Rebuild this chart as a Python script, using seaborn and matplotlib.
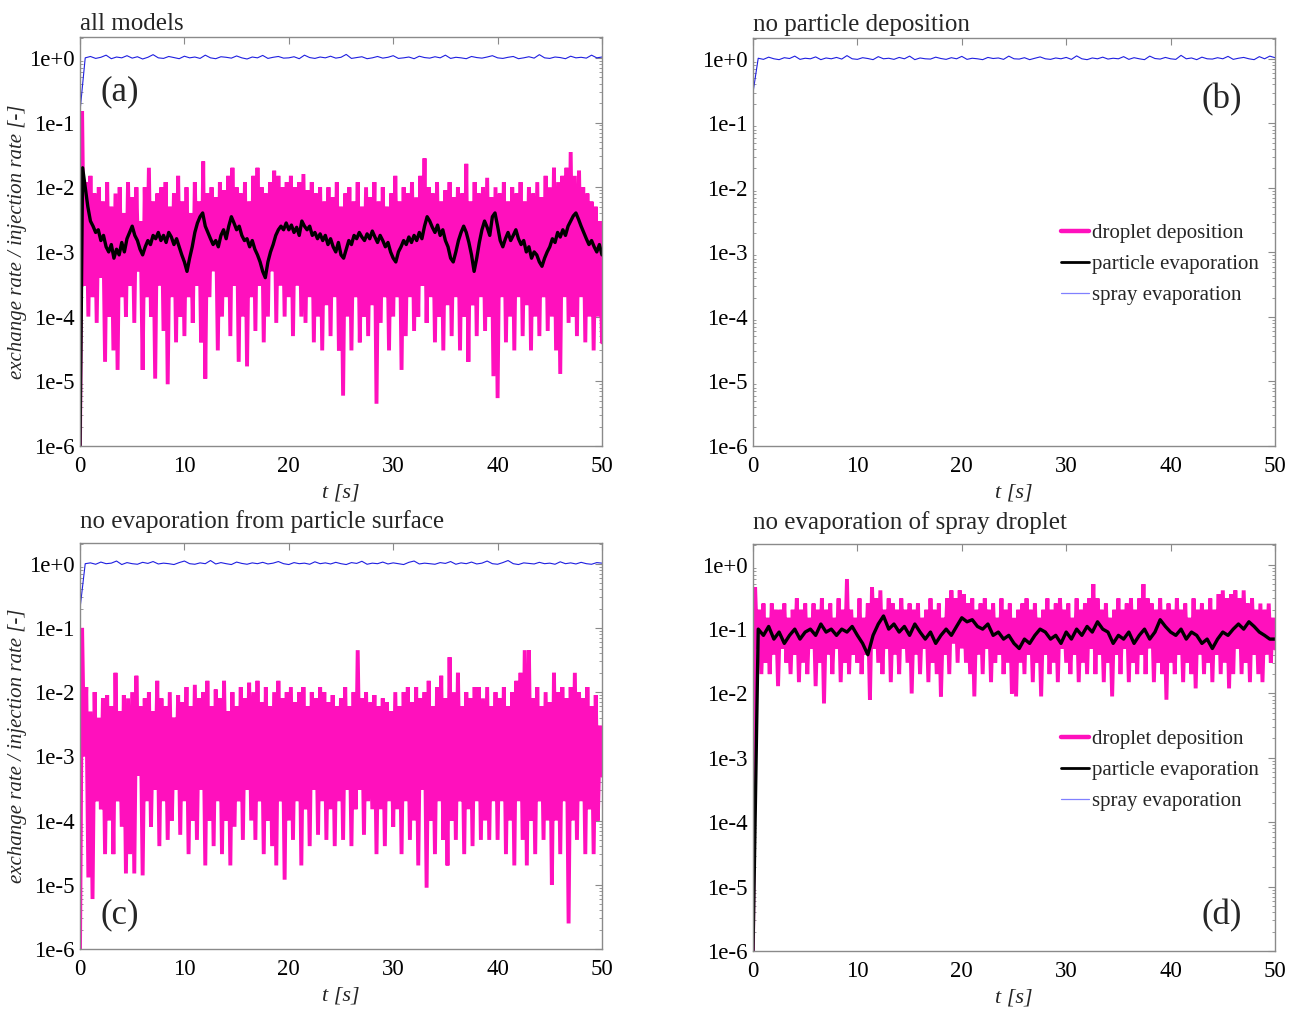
import numpy as np
import pandas as pd
import matplotlib
matplotlib.use("Agg")
import matplotlib.pyplot as plt
from matplotlib.lines import Line2D
from matplotlib.ticker import LogLocator, NullFormatter
import seaborn as sns

# ---------------- data ----------------
titles = ["all models", "no particle deposition",
          "no evaporation from particle surface", "no evaporation of spray droplet"]
panel_tags = ["(a)", "(b)", "(c)", "(d)"]
legend_labels = ["droplet deposition", "particle evaporation", "spray evaporation"]
ytick_vals = [1e-6, 1e-5, 1e-4, 1e-3, 1e-2, 1e-1, 1e0]
ytick_labels = ["1e-6", "1e-5", "1e-4", "1e-3", "1e-2", "1e-1", "1e+0"]
xtick_vals = [0, 10, 20, 30, 40, 50]

# droplet deposition, panel (a)
dep_a = [1e-6, 1.5e-1, 3e-4, 1.2e-2, 1e-4, 1.5e-2, 2e-4, 8e-3, 8e-5, 1e-2, 4e-4, 6e-3, 2e-5, 1.2e-2, 1e-4, 5e-3, 3e-5, 8e-3, 1.5e-5, 1e-2, 2e-4, 4e-3, 1e-4, 1.2e-2, 3e-4,
         7e-3, 8e-5, 1e-2, 5e-4, 3e-3, 1.5e-5, 1e-2, 2e-4, 2e-2, 1e-4, 6e-3, 1.1e-5, 8e-3, 3e-4, 1e-2, 6e-5, 1.2e-2, 9e-6, 5e-3, 2e-4, 8e-3, 4e-5, 1.5e-2, 1e-4, 6e-3,
         5e-5, 1e-2, 2e-4, 4e-3, 8e-5, 1.2e-2, 3e-4, 6e-3, 4e-5, 2.5e-2, 1.1e-5, 8e-3, 2e-4, 1e-2, 5e-4, 7e-3, 3e-5, 1.2e-2, 1e-4, 9e-3, 2e-4, 1.5e-2, 5e-5, 2e-2, 3e-4,
         1e-2, 2e-5, 8e-3, 1e-4, 1.2e-2, 1.7e-5, 6e-3, 2e-4, 1.5e-2, 6e-5, 2e-2, 3e-4, 1e-2, 4e-5, 8e-3, 1e-4, 1.2e-2, 5e-4, 1.8e-2, 8e-5, 1.5e-2, 3e-4, 1e-2, 1e-4, 1.2e-2,
         2e-4, 1.5e-2, 5e-5, 1e-2, 3e-4, 1.2e-2, 1e-4, 1.6e-2, 8e-5, 9e-3, 2e-4, 1.2e-2, 4e-5, 8e-3, 1e-4, 1e-2, 3e-5, 6e-3, 1.5e-4, 1e-2, 5e-5, 7e-3, 2e-4, 1.2e-2, 3e-5,
         5e-3, 6e-6, 8e-3, 1e-4, 1e-2, 3e-5, 6e-3, 2e-4, 1.2e-2, 4e-5, 5e-3, 1e-4, 1e-2, 5e-5, 7e-3, 1.5e-4, 1.2e-2, 4.5e-6, 6e-3, 8e-5, 1e-2, 2e-4, 5e-3, 3e-5, 8e-3,
         1e-4, 1.5e-2, 2e-4, 6e-3, 1.5e-5, 1e-2, 5e-5, 8e-3, 2e-4, 1.2e-2, 6e-5, 7e-3, 1e-4, 1.5e-2, 3e-4, 2.8e-2, 8e-5, 1e-2, 2e-4, 8e-3, 4e-5, 1.2e-2, 1e-4, 6e-3, 3e-5,
         9e-3, 1.5e-4, 1.2e-2, 5e-5, 7e-3, 2e-4, 1e-2, 3e-5, 8e-3, 1e-4, 2.3e-2, 2e-5, 6e-3, 1.5e-4, 1.2e-2, 5e-5, 8e-3, 2e-4, 1e-2, 6e-5, 1.4e-2, 1e-4, 7e-3, 1.2e-5, 1e-2,
         5.5e-6, 8e-3, 2e-4, 1.2e-2, 4e-5, 6e-3, 1e-4, 1e-2, 3e-5, 8e-3, 2e-4, 1.2e-2, 5e-5, 6e-3, 1.5e-4, 1e-2, 3e-5, 8e-3, 1e-4, 1.2e-2, 5e-5, 7e-3, 2e-4, 1.5e-2, 6e-5,
         1e-2, 1e-4, 2e-2, 3e-5, 1.2e-2, 1.3e-5, 1.5e-2, 2e-4, 2e-2, 8e-5, 3.5e-2, 1e-4, 1.5e-2, 5e-5, 1.8e-2, 2e-4, 1e-2, 4e-5, 8e-3, 1e-4, 6e-3, 3e-5, 5e-3, 1e-4, 3e-3, 4e-5]

# particle evaporation, panel (a)
evp_a = [1e-6, 2e-2, 1e-2, 5e-3, 3e-3, 2.5e-3, 2e-3, 2.2e-3, 1.5e-3, 1.8e-3, 1.2e-3, 1e-3, 1.3e-3, 8e-4, 1.1e-3, 9e-4, 1.4e-3, 1e-3, 1.6e-3, 2e-3,
         2.5e-3, 1.8e-3, 1.5e-3, 1.1e-3, 9e-4, 1.2e-3, 1.5e-3, 1.3e-3, 1.8e-3, 1.6e-3, 2e-3, 1.5e-3, 1.8e-3, 1.4e-3, 2e-3, 1.7e-3, 1.3e-3, 1.6e-3, 1.2e-3, 9e-4,
         7e-4, 5e-4, 8e-4, 1.2e-3, 2e-3, 2.8e-3, 3.5e-3, 4e-3, 2.5e-3, 2e-3, 1.6e-3, 1.3e-3, 1.5e-3, 1.2e-3, 1.8e-3, 2.2e-3, 1.6e-3, 2.5e-3, 3.5e-3, 2.8e-3,
         2.2e-3, 2.5e-3, 1.8e-3, 1.5e-3, 1.6e-3, 1.2e-3, 1.5e-3, 1.1e-3, 9e-4, 7e-4, 5e-4, 4e-4, 7e-4, 1e-3, 1.3e-3, 1.8e-3, 2.2e-3, 2.5e-3, 2.2e-3, 2.8e-3,
         2.2e-3, 2.6e-3, 2e-3, 2.4e-3, 1.8e-3, 3e-3, 2.5e-3, 2.2e-3, 2.5e-3, 1.8e-3, 2e-3, 1.6e-3, 1.9e-3, 1.5e-3, 1.8e-3, 1.3e-3, 1.6e-3, 1.2e-3, 1e-3, 1.4e-3,
         9e-4, 8e-4, 1.1e-3, 1.5e-3, 1.3e-3, 1.8e-3, 1.6e-3, 2e-3, 1.7e-3, 1.5e-3, 1.9e-3, 1.6e-3, 2.1e-3, 1.7e-3, 1.4e-3, 1.8e-3, 1.5e-3, 1.2e-3, 1.4e-3, 1e-3,
         8e-4, 7e-4, 1e-3, 1.2e-3, 1.5e-3, 1.3e-3, 1.7e-3, 1.4e-3, 1.8e-3, 1.5e-3, 2e-3, 1.6e-3, 2.5e-3, 3.5e-3, 3e-3, 2.4e-3, 2e-3, 2.6e-3, 1.8e-3, 2.2e-3,
         1.5e-3, 1.2e-3, 8e-4, 7e-4, 1e-3, 1.5e-3, 2e-3, 2.5e-3, 2e-3, 1.4e-3, 9e-4, 5e-4, 8e-4, 1.4e-3, 2.2e-3, 3e-3, 2.4e-3, 1.8e-3, 3.5e-3, 4e-3,
         2.5e-3, 1.5e-3, 1.2e-3, 1.6e-3, 2e-3, 1.5e-3, 1.8e-3, 2.2e-3, 1.6e-3, 1.3e-3, 1.5e-3, 1e-3, 1.2e-3, 8e-4, 1e-3, 9e-4, 7e-4, 6e-4, 8e-4, 1e-3,
         1.2e-3, 1.6e-3, 1.4e-3, 2e-3, 1.7e-3, 2.2e-3, 1.8e-3, 2.5e-3, 3e-3, 3.6e-3, 4e-3, 3.2e-3, 2.5e-3, 2e-3, 1.6e-3, 1.3e-3, 1.5e-3, 1.2e-3, 1e-3, 1.3e-3, 9e-4]

# spray evaporation, panels (a), (b), (c)
spr_a = [0.15, 1.0, 1.05, 0.98, 1.02, 1.1, 0.97, 1.03, 1.0, 1.08, 0.99, 1.04, 0.96, 1.02, 1.12, 1.0, 0.98, 1.05, 1.01, 0.97,
         1.06, 1.0, 1.03, 0.98, 1.1, 1.0, 0.97, 1.04, 1.02, 0.99, 1.07, 1.0, 0.96, 1.03, 1.0, 1.09, 0.98, 1.02, 1.05, 0.99,
         1.0, 1.04, 0.97, 1.1, 1.01, 0.98, 1.03, 1.0, 1.06, 0.99, 1.02, 1.13, 0.98, 1.01, 1.04, 0.97, 1.0, 1.05, 0.99, 1.02,
         1.08, 0.98, 1.0, 1.03, 0.97, 1.06, 1.01, 0.99, 1.04, 1.0, 1.1, 0.98, 1.02, 1.0, 0.97, 1.05, 1.01, 0.99, 1.03, 1.08,
         1.0, 0.98, 1.02, 1.05, 0.97, 1.0, 1.04, 0.99, 1.12, 1.0, 0.98, 1.03, 1.01, 0.97, 1.06, 1.0, 1.02, 0.99, 1.1, 1.0, 1.03]
spr_b = [0.3, 1.02, 0.98, 1.06, 1.0, 0.97, 1.04, 1.01, 1.1, 0.98, 1.02, 1.0, 1.07, 0.97, 1.03, 1.0, 1.05, 0.99, 1.12, 1.0,
         0.98, 1.04, 1.01, 0.97, 1.08, 1.0, 1.02, 0.98, 1.05, 1.0, 1.1, 0.97, 1.03, 1.0, 0.99, 1.06, 1.01, 0.98, 1.04, 1.0,
         1.09, 0.98, 1.02, 1.0, 0.97, 1.05, 1.01, 1.03, 0.98, 1.1, 1.0, 0.99, 1.04, 0.97, 1.02, 1.07, 1.0, 0.98, 1.03, 1.0,
         1.05, 0.98, 1.11, 1.0, 0.97, 1.03, 1.0, 1.06, 0.99, 1.02, 1.0, 1.08, 0.98, 1.04, 1.0, 0.97, 1.1, 1.01, 0.99, 1.05,
         1.0, 0.98, 1.13, 1.0, 1.03, 0.97, 1.06, 1.0, 0.99, 1.04, 1.0, 1.09, 0.98, 1.02, 1.05, 1.0, 0.97, 1.08, 1.0, 1.1, 1.04]
spr_c = [0.2, 1.0, 1.03, 0.98, 1.06, 1.0, 1.02, 1.1, 0.97, 1.04, 1.0, 0.98, 1.05, 1.01, 1.08, 0.99, 1.02, 1.0, 0.97, 1.04,
         1.1, 1.0, 0.98, 1.03, 1.0, 1.12, 0.99, 1.04, 1.0, 0.97, 1.06, 1.01, 0.98, 1.03, 1.0, 1.05, 0.99, 1.02, 1.08, 1.0,
         0.97, 1.04, 1.0, 1.02, 0.98, 1.07, 1.0, 1.03, 0.99, 1.05, 1.0, 0.97, 1.04, 1.01, 1.09, 0.98, 1.02, 1.0, 1.06, 0.99,
         1.03, 1.0, 0.97, 1.05, 1.1, 0.99, 1.02, 1.0, 0.98, 1.04, 1.01, 1.08, 0.98, 1.03, 1.0, 1.06, 0.99, 1.02, 1.1, 1.0,
         0.98, 1.04, 1.12, 1.0, 0.97, 1.03, 1.01, 0.99, 1.05, 1.0, 1.02, 0.98, 1.07, 1.0, 1.03, 0.99, 1.05, 1.0, 0.98, 1.04, 1.02]

# droplet deposition, panel (c)
dep_c = [1e-6, 1e-1, 1e-3, 1.2e-2, 1.3e-5, 5e-3, 6e-6, 1e-2, 2e-4, 4e-3, 1.5e-4, 8e-3, 3e-5, 9e-3, 1e-4, 6e-3, 3e-5, 2e-2, 2e-4, 5e-3, 8e-5, 9e-3, 1.5e-5, 8e-3, 3e-5,
         1e-2, 1.5e-5, 1.8e-2, 5e-4, 6e-3, 1.4e-5, 8e-3, 2e-4, 1e-2, 8e-5, 5e-3, 3e-4, 1.5e-2, 4e-5, 8e-3, 2e-4, 6e-3, 5e-5, 1e-2, 1e-4, 4e-3, 3e-4, 9e-3, 6e-5, 7e-3,
         2e-4, 1.2e-2, 3e-5, 6e-3, 1e-4, 1.3e-2, 5e-5, 8e-3, 3e-4, 1e-2, 2e-5, 1.5e-2, 1e-4, 6e-3, 4e-5, 1.1e-2, 2e-4, 8e-3, 3e-5, 1.5e-2, 1e-4, 5e-3, 2e-5, 1e-2, 8e-5,
         6e-3, 2e-4, 1.2e-2, 5e-5, 8e-3, 3e-4, 1.4e-2, 1e-4, 1e-2, 5e-5, 1.5e-2, 2e-4, 7e-3, 3e-5, 1.2e-2, 1e-4, 6e-3, 4e-5, 1e-2, 2e-5, 1.5e-2, 2e-4, 8e-3, 1.2e-5, 1e-2,
         1e-4, 1.2e-2, 5e-5, 7e-3, 2e-4, 1e-2, 2e-5, 1.2e-2, 1.5e-4, 6e-3, 4e-5, 1e-2, 3e-4, 8e-3, 6e-5, 1.2e-2, 2e-4, 1e-2, 5e-5, 7e-3, 1.5e-4, 9e-3, 4e-5, 6e-3, 2e-4,
         8e-3, 5e-5, 1.2e-2, 3e-4, 6e-3, 4e-5, 1e-2, 1.5e-4, 4.5e-2, 3e-4, 8e-3, 6e-5, 1e-2, 2e-4, 7e-3, 1.5e-4, 9e-3, 3e-5, 6e-3, 1.5e-4, 8e-3, 4e-5, 7e-3, 2e-4, 5e-3,
         8e-5, 1e-2, 1.5e-4, 6e-3, 3e-5, 1e-2, 2e-4, 1.2e-2, 5e-5, 7e-3, 1e-4, 1.2e-2, 2e-5, 8e-3, 3e-4, 1e-2, 9e-6, 1.5e-2, 1e-4, 6e-3, 3e-5, 1.2e-2, 2e-4, 1.8e-2, 5e-5,
         8e-3, 2e-5, 3.5e-2, 1e-4, 1e-2, 5e-5, 2e-2, 2e-4, 6e-3, 3e-5, 1e-2, 1.5e-4, 8e-3, 4e-5, 1.2e-2, 2e-4, 1.2e-2, 5e-5, 8e-3, 1e-4, 1.2e-2, 5e-5, 6e-3, 2e-4, 1e-2,
         5e-5, 8e-3, 2e-4, 1.2e-2, 3e-5, 6e-3, 1e-4, 1e-2, 2e-5, 1.5e-2, 2e-4, 2e-2, 5e-5, 4.5e-2, 2e-5, 4.5e-2, 1e-4, 8e-3, 3e-5, 1.2e-2, 2e-4, 6e-3, 5e-5, 1e-2, 1e-4,
         7e-3, 1e-5, 2e-2, 1e-4, 1e-2, 3e-5, 1.2e-2, 2e-4, 8e-3, 2.5e-6, 1.2e-2, 1e-4, 2e-2, 5e-5, 1e-2, 2e-4, 8e-3, 3e-5, 1.2e-2, 1.5e-4, 6e-3, 3e-5, 9e-3, 1e-4, 3e-3, 5e-4]

# droplet deposition, panel (d)
dep_d = [1e-6, 4.5e-1, 5e-2, 2e-1, 2e-2, 2.5e-1, 3e-2, 1.5e-1, 2e-2, 2.5e-1, 4e-2, 2e-1, 1.3e-2, 2e-1, 5e-2, 2.5e-1, 3e-2, 1.5e-1, 2e-2, 2e-1, 4e-2, 3e-1, 1.5e-2, 2e-1, 3e-2,
         2.5e-1, 2e-2, 1.5e-1, 5e-2, 2.5e-1, 1.3e-2, 2e-1, 3e-2, 3e-1, 7e-3, 2e-1, 4e-2, 2.5e-1, 2e-2, 1.5e-1, 5e-2, 3e-1, 1.5e-2, 2e-1, 3e-2, 6e-1, 2e-2, 2e-1, 4e-2, 1.5e-1,
         3e-2, 3e-1, 2e-2, 1.5e-1, 4e-2, 2.5e-1, 8e-3, 4.5e-1, 5e-2, 3e-1, 3e-2, 4e-1, 2e-2, 2e-1, 5e-2, 3e-1, 1.5e-2, 2.5e-1, 4e-2, 2e-1, 2e-2, 3e-1, 5e-2, 2e-1, 3e-2,
         2.5e-1, 1e-2, 2e-1, 4e-2, 2.5e-1, 2e-2, 1.5e-1, 5e-2, 2e-1, 1.5e-2, 3e-1, 3e-2, 2e-1, 2e-2, 2.5e-1, 9e-3, 1.5e-1, 4e-2, 3e-1, 2e-2, 4e-1, 6e-2, 3e-1, 3e-2, 4e-1,
         5e-2, 3.5e-1, 3e-2, 2.5e-1, 2e-2, 3e-1, 9e-3, 2e-1, 4e-2, 2.5e-1, 2e-2, 3e-1, 5e-2, 2e-1, 1.5e-2, 2.5e-1, 3e-2, 1.5e-1, 4e-2, 3e-1, 2e-2, 2e-1, 3e-2, 2.5e-1, 1e-2,
         1.5e-1, 9e-3, 2e-1, 3e-2, 2.5e-1, 2e-2, 3e-1, 4e-2, 2e-1, 1.5e-2, 2.5e-1, 3e-2, 1.5e-1, 9e-3, 2e-1, 4e-2, 3e-1, 2e-2, 2e-1, 3e-2, 2.5e-1, 1.5e-2, 3e-1, 5e-2, 2e-1,
         3e-2, 2.5e-1, 2e-2, 1.5e-1, 4e-2, 3e-1, 1.5e-2, 2e-1, 3e-2, 2.5e-1, 2e-2, 3e-1, 5e-2, 5e-1, 2e-2, 3e-1, 4e-2, 2e-1, 1.5e-2, 2.5e-1, 3e-2, 1.5e-1, 9e-3, 2e-1, 4e-2,
         3e-1, 2e-2, 2e-1, 5e-2, 2.5e-1, 1.5e-2, 3e-1, 3e-2, 2e-1, 2e-2, 3e-1, 4e-2, 5e-1, 2e-2, 3e-1, 5e-2, 2.5e-1, 1.5e-2, 2e-1, 3e-2, 3e-1, 2e-2, 2e-1, 8e-3, 2.5e-1,
         3e-2, 2e-1, 2e-2, 3e-1, 4e-2, 2e-1, 1.5e-2, 2.5e-1, 3e-2, 1.5e-1, 2e-2, 3e-1, 1.2e-2, 2e-1, 4e-2, 2.5e-1, 2e-2, 2e-1, 3e-2, 3e-1, 1.5e-2, 2e-1, 4e-2, 3.5e-1, 2e-2,
         4e-1, 3e-2, 3e-1, 1.2e-2, 3.5e-1, 2e-2, 4e-1, 5e-2, 3e-1, 2e-2, 4e-1, 3e-2, 2.5e-1, 1.5e-2, 3e-1, 4e-2, 2e-1, 2e-2, 2.5e-1, 1.5e-2, 2e-1, 4e-2, 2.5e-1, 3e-2, 1.5e-1, 5e-2]

# particle evaporation, panel (d)
evp_d = [1e-6, 1e-1, 8e-2, 1.1e-1, 7e-2, 9e-2, 6e-2, 8e-2, 1e-1, 7e-2, 9e-2, 1e-1, 8e-2, 1.2e-1, 9e-2, 1e-1, 8e-2, 1e-1, 9e-2, 1.1e-1,
         8e-2, 6e-2, 4e-2, 8e-2, 1.2e-1, 1.6e-1, 1e-1, 1.2e-1, 9e-2, 1.1e-1, 8e-2, 1.2e-1, 9e-2, 7e-2, 9e-2, 6e-2, 8e-2, 1e-1, 8e-2, 1.1e-1,
         1.5e-1, 1.3e-1, 1.4e-1, 1.1e-1, 1e-1, 1.2e-1, 8e-2, 9e-2, 7e-2, 8e-2, 6e-2, 5e-2, 7e-2, 6e-2, 8e-2, 1e-1, 9e-2, 7e-2, 8e-2, 6e-2,
         9e-2, 7e-2, 1e-1, 8e-2, 1.1e-1, 9e-2, 1.3e-1, 1e-1, 9e-2, 6e-2, 8e-2, 7e-2, 9e-2, 6e-2, 8e-2, 1e-1, 7e-2, 9e-2, 1.4e-1, 1.1e-1,
         9e-2, 8e-2, 1e-1, 7e-2, 9e-2, 8e-2, 6e-2, 7e-2, 5e-2, 7e-2, 9e-2, 8e-2, 1e-1, 1.2e-1, 1e-1, 1.3e-1, 1.1e-1, 9e-2, 8e-2, 7e-2, 7e-2]

panel_series = [
    {"dep": dep_a, "evp": evp_a, "spr": spr_a},
    {"dep": None, "evp": None, "spr": spr_b},
    {"dep": dep_c, "evp": None, "spr": spr_c},
    {"dep": dep_d, "evp": evp_d, "spr": None},
]

# ---------------- style ----------------
PINK = "#ff10bd"
BLACK = "#000000"
BLUE = "#1f1fe0"
GRAY = "#8a8a8a"

sns.set_theme(style="white")
plt.rcParams["font.family"] = ["Liberation Serif", "DejaVu Serif"]

fig = plt.figure(figsize=(12.89, 10.10), dpi=100)
W, H = 1289.0, 1010.0
boxes = [(80, 37, 602, 446), (753, 38, 1275, 446), (80, 543, 602, 949), (753, 544, 1275, 951)]
title_pads = [5, 5, 11, 11]
tag_pos = [(0.077, 0.865), (0.898, 0.848), (0.077, 0.084), (0.898, 0.086)]

for i, (l, t, r, b) in enumerate(boxes):
    ax = fig.add_axes([l / W, 1 - b / H, (r - l) / W, (b - t) / H])
    s = panel_series[i]
    if s["dep"] is not None:
        df = pd.DataFrame({"t": np.linspace(0, 50, len(s["dep"])), "v": s["dep"]})
        sns.lineplot(data=df, x="t", y="v", ax=ax, color=PINK, linewidth=2.8,
                     estimator=None, sort=False, solid_joinstyle="miter")
    if s["evp"] is not None:
        df = pd.DataFrame({"t": np.linspace(0, 50, len(s["evp"])), "v": s["evp"]})
        sns.lineplot(data=df, x="t", y="v", ax=ax, color=BLACK, linewidth=2.4,
                     estimator=None, sort=False)
    if s["spr"] is not None:
        df = pd.DataFrame({"t": np.linspace(0, 50, len(s["spr"])), "v": s["spr"]})
        sns.lineplot(data=df, x="t", y="v", ax=ax, color=BLUE, linewidth=0.8,
                     estimator=None, sort=False)

    ax.set_yscale("log")
    ax.set_xlim(0, 50)
    ax.set_ylim(1e-6, 2.1)
    ax.set_yticks(ytick_vals)
    ax.set_yticklabels(ytick_labels)
    ax.yaxis.set_minor_locator(LogLocator(base=10, subs=np.arange(2, 10), numticks=20))
    ax.yaxis.set_minor_formatter(NullFormatter())
    ax.set_xticks(xtick_vals)
    ax.set_xticklabels([str(v) for v in xtick_vals])
    ax.tick_params(axis="both", which="major", direction="in", length=5, width=0.8,
                   colors=GRAY, labelcolor="black", labelsize=16.5,
                   top=True, right=True, pad=4)
    ax.tick_params(axis="x", which="major", pad=7)
    ax.tick_params(axis="y", which="minor", direction="in", length=2.5, width=0.6,
                   colors=GRAY, left=True, right=True)
    for sp in ax.spines.values():
        sp.set_color(GRAY)
        sp.set_linewidth(1.0)
    ax.grid(False)

    ax.set_title(titles[i], loc="left", fontsize=18, pad=title_pads[i])
    ax.set_xlabel("t [s]", fontsize=16, style="italic", labelpad=5)
    if i in (0, 2):
        ax.set_ylabel("exchange rate / injection rate [-]", fontsize=15,
                      style="italic", labelpad=1)
    else:
        ax.set_ylabel("")
    ax.text(tag_pos[i][0], tag_pos[i][1], panel_tags[i], transform=ax.transAxes,
            fontsize=25, ha="center", va="center")

    if i in (1, 3):
        handles = [Line2D([], [], color=PINK, linewidth=3.2),
                   Line2D([], [], color=BLACK, linewidth=2.0),
                   Line2D([], [], color="#8080ff", linewidth=0.9)]
        ax.legend(handles, legend_labels, loc="upper left",
                  bbox_to_anchor=(0.575, 0.565), frameon=False, fontsize=15,
                  handlelength=1.3, handletextpad=0.15, labelspacing=0.55,
                  borderaxespad=0.0)
    else:
        leg = ax.get_legend()
        if leg is not None:
            leg.remove()

fig.savefig("out.png", dpi=100)
